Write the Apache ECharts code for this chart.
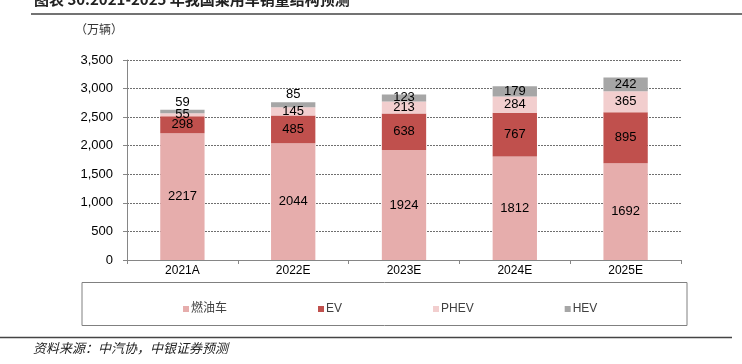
<!DOCTYPE html>
<html>
<head>
<meta charset="utf-8">
<script src="https://cdn.jsdelivr.net/npm/echarts@6/dist/echarts.min.js"></script>
<style>
html,body{margin:0;padding:0;background:#fff;}
#c{width:742px;height:364px;}
</style>
</head>
<body>
<div id="c"></div>
<script>
var categories = ['2021A', '2022E', '2023E', '2024E', '2025E'];
var iceSales = [2217, 2044, 1924, 1812, 1692];
var evSales = [298, 485, 638, 767, 895];
var phevSales = [55, 145, 213, 284, 365];
var hevSales = [59, 85, 123, 179, 242];
var seriesNames = ['燃油车', 'EV', 'PHEV', 'HEV'];
var yTicks = [0, 500, 1000, 1500, 2000, 2500, 3000, 3500];

var numFont = "'Liberation Sans Narrow', 'Liberation Sans', Arial, sans-serif";
var colors = ['#E6ADAC', '#C0504D', '#F2CECE', '#A6A6A6'];

function lbl(extra) {
  var o = {show: true, position: 'inside', color: '#000', fontSize: 13, fontFamily: numFont};
  if (extra) for (var k in extra) o[k] = extra[k];
  return o;
}

var hevData = hevSales.map(function (v, i) {
  if (i < 2) return {value: v, label: {position: 'top', distance: 1}};
  return v;
});

var chart = echarts.init(document.getElementById('c'), null, {renderer: 'canvas'});
chart.setOption({
  animation: false,
  color: colors,
  grid: {left: 127, right: 61, top: 60, bottom: 104, containLabel: false},
  legend: {
    left: 178, top: 298,
    icon: 'rect', itemWidth: 6, itemHeight: 6, itemGap: 91,
    textStyle: {fontSize: 12, color: '#404040', fontFamily: "'Liberation Sans', 'Noto Sans CJK SC', sans-serif", padding: [0, 0, 0, -3]},
    data: seriesNames
  },
  xAxis: {
    type: 'category', data: categories,
    axisLine: {lineStyle: {color: '#868686', width: 1}},
    axisTick: {show: true, length: 4, alignWithLabel: false, lineStyle: {color: '#868686'}},
    axisLabel: {color: '#000', fontSize: 12, fontFamily: numFont, margin: 5}
  },
  yAxis: {
    type: 'value', min: yTicks[0], max: yTicks[yTicks.length - 1], interval: 500,
    axisLine: {show: true, lineStyle: {color: '#868686', width: 1}},
    axisTick: {show: true, length: 4, lineStyle: {color: '#868686'}},
    axisLabel: {color: '#000', fontSize: 13, fontFamily: numFont, margin: 14,
      formatter: function (v) { return v.toLocaleString('en-US'); }},
    splitLine: {show: true, lineStyle: {color: '#6f6f6f', type: [2, 1], width: 1}}
  },
  series: [
    {name: seriesNames[0], type: 'bar', stack: 't', barWidth: '40%', data: iceSales, label: lbl()},
    {name: seriesNames[1], type: 'bar', stack: 't', barWidth: '40%', data: evSales, label: lbl()},
    {name: seriesNames[2], type: 'bar', stack: 't', barWidth: '40%', data: phevSales, label: lbl()},
    {name: seriesNames[3], type: 'bar', stack: 't', barWidth: '40%', data: hevData, label: lbl()}
  ],
  graphic: [
    {type: 'text', left: 34, top: -8, style: {text: '图表 30:2021-2025 年我国乘用车销量结构预测', fontSize: 15, fontWeight: 'bold', fill: '#222', fontFamily: "'Noto Sans CJK SC', sans-serif"}},
    {type: 'line', shape: {x1: 31, y1: 14, x2: 742, y2: 14}, style: {stroke: '#444', lineWidth: 1.5}},
    {type: 'text', left: 75, top: 23, style: {text: '（万辆）', fontSize: 12, fill: '#333', fontFamily: "'Noto Sans CJK SC', sans-serif"}},
    {type: 'rect', shape: {x: 82, y: 282.5, width: 605, height: 43}, style: {fill: 'none', stroke: '#808080', lineWidth: 1}, z: -1},
    {type: 'line', shape: {x1: 0, y1: 337.5, x2: 732, y2: 337.5}, style: {stroke: '#444', lineWidth: 1.5}},
    {type: 'text', left: 33, top: 342, style: {text: '资料来源：中汽协，中银证券预测', fontSize: 13, fontStyle: 'italic', fill: '#222', fontFamily: "'Noto Sans CJK SC', sans-serif"}}
  ]
});
</script>
</body>
</html>
